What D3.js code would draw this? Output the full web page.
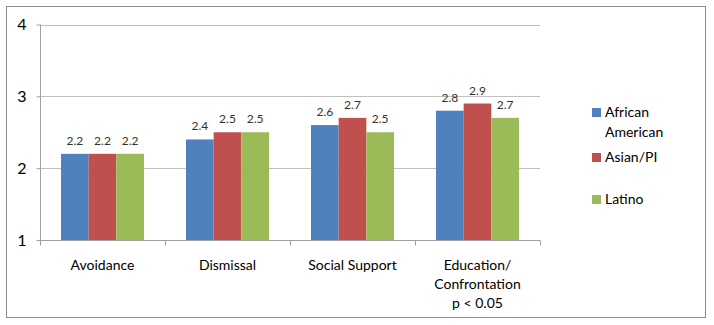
<!DOCTYPE html>
<html>
<head>
<meta charset="utf-8">
<script src="https://cdn.jsdelivr.net/npm/d3@7"></script>
<style>
  body { margin: 0; background: #fff; }
  svg text { font-family: Lato, "Open Sans", sans-serif; fill: #000; }
</style>
</head>
<body>
<div id="graph"></div>
<script>
var categories = [["Avoidance"], ["Dismissal"], ["Social Support"], ["Education/", "Confrontation", "p < 0.05"]];
var seriesNames = ["African American", "Asian/PI", "Latino"];
var legendLines = [["African", "American"], ["Asian/PI"], ["Latino"]];
var african = [2.2, 2.4, 2.6, 2.8];
var asian = [2.2, 2.5, 2.7, 2.9];
var latino = [2.2, 2.5, 2.5, 2.7];
var yTicks = [1, 2, 3, 4];

var colors = ["#4F81BD", "#C0504D", "#9BBB59"];
var w = 714, h = 325;
var plot = {left: 40, right: 540, top: 24.5, bottom: 240};

var svg = d3.select("#graph").append("svg")
  .attr("width", w)
  .attr("height", h);

// chart border
svg.append("rect")
  .attr("x", 6.5).attr("y", 6.5)
  .attr("width", 699).attr("height", 311)
  .attr("fill", "#fff")
  .attr("stroke", "#8c8c8c")
  .attr("stroke-width", 1);

var x = d3.scaleBand()
  .domain(d3.range(categories.length))
  .range([plot.left, plot.right]);

var x1 = d3.scaleBand()
  .domain(d3.range(seriesNames.length))
  .range([0, x.bandwidth() * 0.664]);

var y = d3.scaleLinear()
  .domain([1, 4])
  .range([plot.bottom, plot.top]);

// gridlines
svg.append("g")
  .selectAll("line")
  .data(yTicks.slice(1))
  .enter().append("line")
  .attr("x1", plot.left).attr("x2", plot.right)
  .attr("y1", function(d) { return Math.round(y(d)) + 0.5; })
  .attr("y2", function(d) { return Math.round(y(d)) + 0.5; })
  .attr("stroke", "#c0c0c0");

// y axis
var yAxis = svg.append("g")
  .attr("transform", "translate(" + (plot.left + 0.5) + ",0)")
  .call(d3.axisLeft(y).tickValues(yTicks).tickFormat(d3.format("d")).tickSize(4).tickPadding(10));
yAxis.select(".domain").attr("stroke", "#a0a0a0").attr("d", "M0," + plot.top + "V" + plot.bottom);
yAxis.selectAll(".tick line").attr("stroke", "#a0a0a0");
yAxis.selectAll("text").attr("font-size", 16).attr("font-family", "Lato, sans-serif");

var data = [african, asian, latino];

var groups = svg.selectAll(".group")
  .data(categories)
  .enter().append("g")
  .attr("class", "group")
  .attr("transform", function(d, i) {
    return "translate(" + (x(i) + x.bandwidth() * 0.168) + ",0)";
  });

groups.selectAll("rect")
  .data(function(d, i) { return data.map(function(s, j) { return {s: j, v: s[i]}; }); })
  .enter().append("rect")
  .attr("x", function(d) { return x1(d.s); })
  .attr("y", function(d) { return y(d.v); })
  .attr("width", x1.bandwidth())
  .attr("height", function(d) { return y(1) - y(d.v); })
  .attr("fill", function(d) { return colors[d.s]; });

groups.selectAll(".lbl")
  .data(function(d, i) { return data.map(function(s, j) { return {s: j, v: s[i]}; }); })
  .enter().append("text")
  .attr("class", "lbl")
  .attr("x", function(d) { return x1(d.s) + x1.bandwidth() / 2; })
  .attr("y", function(d) { return y(d.v) - 9; })
  .attr("text-anchor", "middle")
  .attr("font-size", 12)
  .style("fill", "#333")
  .text(function(d) { return d.v.toFixed(1); });

// x axis
var xAxis = svg.append("g").attr("transform", "translate(0," + (plot.bottom + 0.5) + ")");
xAxis.append("line")
  .attr("x1", plot.left).attr("x2", plot.right)
  .attr("stroke", "#a0a0a0");
xAxis.selectAll(".tk")
  .data(d3.range(categories.length + 1))
  .enter().append("line")
  .attr("x1", function(i) { return Math.round(plot.left + i * x.step()) + 0.5; })
  .attr("x2", function(i) { return Math.round(plot.left + i * x.step()) + 0.5; })
  .attr("y1", 0).attr("y2", 5)
  .attr("stroke", "#a0a0a0");

svg.selectAll(".cat")
  .data(categories)
  .enter().append("text")
  .attr("class", "cat")
  .attr("text-anchor", "middle")
  .attr("font-size", 14)
  .attr("x", function(d, i) { return x(i) + x.bandwidth() / 2; })
  .attr("y", 270)
  .selectAll("tspan")
  .data(function(d) { return d; })
  .enter().append("tspan")
  .attr("x", function() { return d3.select(this.parentNode).attr("x"); })
  .attr("dy", function(d, i) { return i === 0 ? 0 : 19; })
  .text(function(d) { return d; });

// legend
var legendY = [117, 162, 204];
var legend = svg.selectAll(".legend")
  .data(seriesNames)
  .enter().append("g")
  .attr("class", "legend");

legend.append("rect")
  .attr("x", 592)
  .attr("y", function(d, i) { return legendY[i] - 9; })
  .attr("width", 9).attr("height", 9)
  .attr("fill", function(d, i) { return colors[i]; });

legend.append("text")
  .attr("x", 605)
  .attr("y", function(d, i) { return legendY[i]; })
  .attr("font-size", 14)
  .selectAll("tspan")
  .data(function(d, i) { return legendLines[i]; })
  .enter().append("tspan")
  .attr("x", 605)
  .attr("dy", function(d, i) { return i === 0 ? 0 : 20; })
  .text(function(d) { return d; });
</script>
</body>
</html>
